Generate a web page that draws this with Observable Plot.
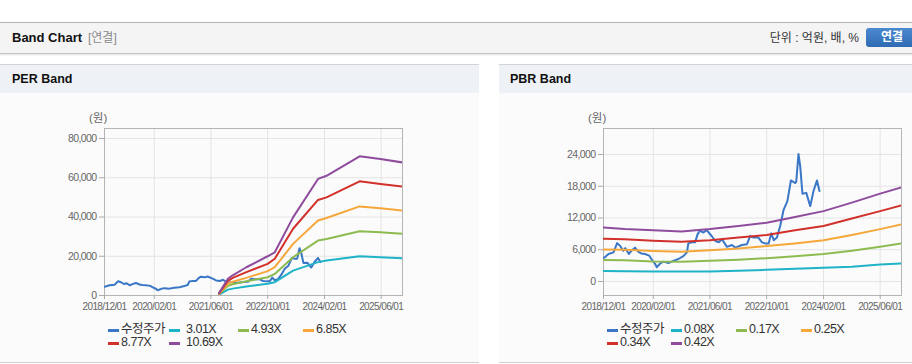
<!DOCTYPE html>
<html><head><meta charset="utf-8">
<script src="https://cdn.jsdelivr.net/npm/d3@7"></script>
<script src="https://cdn.jsdelivr.net/npm/@observablehq/plot@0.6"></script>
<style>
html,body{margin:0;padding:0;background:#fff;}
body{width:912px;height:364px;position:relative;overflow:hidden;font-family:"Liberation Sans",Arial,"Noto Sans CJK KR",sans-serif;}
.abs{position:absolute;white-space:nowrap;}
#topbar{left:0;top:22px;width:912px;height:30px;background:#f4f4f4;border-top:1px solid #b4b4b4;border-bottom:1px solid #c2c2c2;box-shadow:0 1px 2px rgba(0,0,0,0.12);}
.panel{top:64px;height:297px;background:#fbfbfb;border-top:1px solid #d3d3d3;border-bottom:1px solid #d0d0d0;}
.phead{left:0;top:0;right:0;height:28px;background:#eef2f7;}
.ptitle{font-weight:bold;font-size:12.5px;color:#111;line-height:28px;}
.unit{font-size:11.5px;color:#666;}
.leg{font-size:12.5px;color:#333;letter-spacing:-0.5px;line-height:13px;}
.sw{position:absolute;height:3px;width:11px;}
.btn{left:866px;top:28px;width:52px;height:19px;border-radius:3px;background:linear-gradient(#4a88cf,#2f6cb3);color:#fff;font-weight:bold;font-size:12px;line-height:19px;text-align:center;}
#per svg text, #pbr svg text{letter-spacing:-0.6px;}
</style></head><body>

<div id="topbar" class="abs"></div>
<div class="abs" style="left:12px;top:29px;font-weight:bold;font-size:13px;color:#111;line-height:18px;">Band Chart</div>
<div class="abs" style="left:88px;top:29px;font-size:12px;color:#8a8a8a;line-height:18px;">[연결]</div>
<div class="abs" style="right:53px;top:29px;font-size:12px;color:#333;line-height:18px;">단위 : 억원, 배, %</div>
<div class="abs btn">연결</div>

<div class="abs panel" style="left:0;width:479px;"><div class="abs phead"><span class="abs ptitle" style="left:12px;">PER Band</span></div></div>
<div class="abs panel" style="left:499px;width:413px;"><div class="abs phead"><span class="abs ptitle" style="left:11px;">PBR Band</span></div></div>

<div class="abs unit" style="left:89px;top:109px;">(원)</div>
<div class="abs unit" style="left:588px;top:109px;">(원)</div>

<div id="per" class="abs" style="left:0;top:100px;"></div>
<div id="pbr" class="abs" style="left:499px;top:100px;"></div>
<div id="perLeg"></div>
<div id="pbrLeg"></div>

<script>
// ---- data ----
const xDomain = ["2018-12-01", "2025-12-01"];
const xTicks = ["2018-12-01", "2020-02-01", "2021-06-01", "2022-10-01", "2024-02-01", "2025-06-01"];
const perYTicks = [0, 20000, 40000, 60000, 80000];
const pbrYTicks = [0, 6000, 12000, 18000, 24000];

const seriesColors = ["#3a77c6", "#1fb3c7", "#8dbb50", "#f5a73a", "#d1302b", "#8f4c9d"];
const perLabels = ["수정주가", "3.01X", "4.93X", "6.85X", "8.77X", "10.69X"];
const pbrLabels = ["수정주가", "0.08X", "0.17X", "0.25X", "0.34X", "0.42X"];

// 수정주가 (adjusted price)
const priceDates = ["2018-12-01","2018-12-10","2019-01-13","2019-02-25","2019-03-28","2019-04-22","2019-05-19","2019-06-06","2019-07-07","2019-07-28","2019-08-28","2019-09-27","2019-10-22","2019-11-22","2019-12-28","2020-01-16","2020-02-18","2020-03-01","2020-04-01","2020-04-28","2020-06-10","2020-07-22","2020-09-04","2020-10-16","2020-11-16","2020-11-28","2020-12-28","2021-01-25","2021-02-15","2021-03-07","2021-04-06","2021-05-04","2021-06-16","2021-07-16","2021-08-16","2021-09-13","2021-10-25","2021-12-07","2022-01-06","2022-03-03","2022-04-15","2022-05-13","2022-06-10","2022-07-22","2022-08-22","2022-09-19","2022-10-18","2022-11-10","2022-12-01","2022-12-28","2023-01-25","2023-02-24","2023-03-28","2023-04-27","2023-06-04","2023-06-12","2023-07-01","2023-07-16","2023-08-04","2023-09-06","2023-10-10","2023-11-07","2023-12-07","2023-12-28"];
const priceValues = [4500,4550,5200,5500,7250,6750,5800,6300,5200,5800,6400,5600,5300,5200,4900,4250,3300,2700,3400,3750,3500,3900,4250,4800,5500,7200,7400,7400,8900,9600,9250,9700,8600,7700,7400,8000,6550,6900,6400,6900,7050,8600,8300,8300,7400,7200,7200,9100,7800,8300,10500,13600,15200,19100,18600,18900,24100,21750,16600,16750,14250,17100,19100,17100];

// PER band lines
const perBandDates = ["2021-08-10","2021-10-25","2021-12-05","2022-04-01","2022-10-01","2022-12-01","2023-05-07","2023-12-07","2024-02-18","2024-11-28","2025-05-25","2025-12-01"];
const per301  = [400, 3000, 3500, 4600, 6000, 6800, 12700, 17000, 17800, 20000, 19500, 19000];
const per493  = [700, 4900, 5700, 7300, 9300, 11000, 19500, 28000, 28800, 32700, 32200, 31400];
const per685  = [900, 6100, 7000, 9000, 12400, 14400, 26300, 38200, 39500, 45400, 44400, 43300];
const per877  = [1100, 7500, 9000, 11900, 16100, 18700, 34000, 48700, 50000, 58200, 56800, 55500];
const per1069 = [1300, 8500, 10300, 14400, 20000, 22000, 39800, 59400, 61000, 70900, 69600, 67800];

// PBR band lines
const pbrBandDates = ["2018-12-01","2019-06-01","2020-02-01","2020-10-01","2021-06-01","2022-02-01","2022-10-01","2023-06-01","2024-02-01","2024-10-01","2025-06-01","2025-12-01"];
const pbr008 = [2000, 1950, 1900, 1900, 1900, 2050, 2200, 2400, 2600, 2800, 3200, 3400];
const pbr017 = [4060, 4000, 3800, 3750, 3900, 4100, 4400, 4750, 5200, 5800, 6550, 7200];
const pbr025 = [6060, 6000, 5750, 5600, 5900, 6250, 6700, 7200, 7800, 8800, 9900, 10800];
const pbr034 = [8100, 8000, 7700, 7500, 7800, 8300, 8800, 9700, 10500, 11900, 13300, 14400];
const pbr042 = [10200, 9900, 9700, 9450, 9900, 10500, 11100, 12200, 13300, 14900, 16600, 17800];

// ---- drawing ----
const parse = d3.utcParse("%Y-%m-%d");
const rows = (dates, vals) => dates.map((d, i) => ({date: parse(d), value: vals[i]}));
const fmtDate = d3.utcFormat("%Y/%m/%d");
const FONT = '"Liberation Sans", Arial, "Noto Sans CJK KR", sans-serif';

function chart({width, marginRight, yDomain, yTicks, bandDates, bands}) {
  const lineOpts = (c) => ({x: "date", y: "value", stroke: c, strokeWidth: 2, clip: true});
  return Plot.plot({
    width, height: 225,
    marginLeft: 104, marginRight, marginTop: 28, marginBottom: 30,
    style: {background: "transparent", fontFamily: FONT, fontSize: "10px", color: "#666", overflow: "visible"},
    x: {type: "utc", domain: xDomain.map(parse), label: null},
    y: {domain: yDomain, label: null},
    marks: [
      Plot.gridX(xTicks.map(parse), {stroke: "#e4e4e4", strokeOpacity: 1}),
      Plot.gridY(yTicks, {stroke: "#e4e4e4", strokeOpacity: 1}),
      Plot.frame({stroke: "#b4b4b4"}),
      Plot.axisX(xTicks.map(parse), {tickFormat: fmtDate, tickSize: 4, tickPadding: 3, stroke: "#aaa", fill: "#666", fontSize: 10, label: null}),
      Plot.axisY(yTicks, {tickFormat: d3.format(","), tickSize: 5, tickPadding: 3, stroke: "#aaa", fill: "#666", fontSize: 10.5, label: null}),
      Plot.line(rows(priceDates, priceValues), lineOpts(seriesColors[0])),
      ...bands.map((vals, k) => Plot.line(rows(bandDates, vals), lineOpts(seriesColors[k + 1])))
    ]
  });
}

document.getElementById("per").append(chart({
  width: 480, marginRight: 78, yDomain: [0, 85100], yTicks: perYTicks,
  bandDates: perBandDates, bands: [per301, per493, per685, per877, per1069]
}));
document.getElementById("pbr").append(chart({
  width: 413, marginRight: 11, yDomain: [-2646, 28913], yTicks: pbrYTicks,
  bandDates: pbrBandDates, bands: [pbr008, pbr017, pbr025, pbr034, pbr042]
}));

function legend(id, labels, textX, swX, rowY) {
  const host = document.getElementById(id);
  labels.forEach((lab, i) => {
    const r = i < 4 ? 0 : 1, c = i < 4 ? i : i - 4;
    const y = rowY[r];
    const sw = document.createElement("div");
    sw.className = "sw";
    sw.style.left = swX[c] + "px"; sw.style.top = (y - 1) + "px";
    sw.style.background = seriesColors[i];
    host.append(sw);
    const t = document.createElement("div");
    t.className = "abs leg";
    t.style.left = textX[c] + "px"; t.style.top = (y - 7) + "px";
    t.textContent = lab;
    host.append(t);
  });
}
legend("perLeg", perLabels, [121, 186, 251, 316], [108, 169, 238, 303], [330, 343]);
legend("pbrLeg", pbrLabels, [620, 684, 749, 814], [607, 671, 736, 801], [330, 343]);
</script>
</body></html>
